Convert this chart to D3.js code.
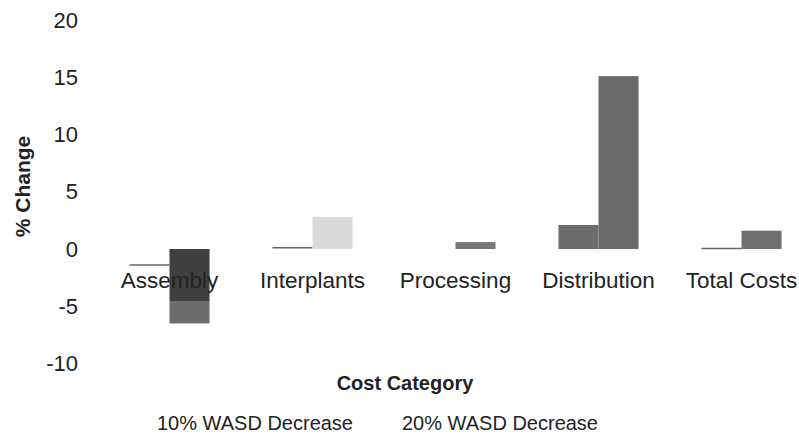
<!DOCTYPE html>
<html>
<head>
<meta charset="utf-8">
<script src="https://cdn.jsdelivr.net/npm/d3@7"></script>
<style>
  body { margin: 0; background: #fff; }
  svg { display: block; font-family: "Liberation Sans", Arial, sans-serif; }
</style>
</head>
<body>
<script>
// Cost category % change under two WASD decrease scenarios

const categories = ["Assembly", "Interplants", "Processing", "Distribution", "Total Costs"];
const seriesNames = ["10% WASD Decrease", "20% WASD Decrease"];
const wasd10 = [-1.4, 0.1, 0, 2.1, 0.05];
const wasd20 = [-6.5, 2.8, 0.6, 15.1, 1.6];
const yTicks = [-10, -5, 0, 5, 10, 15, 20];

// scanned look: each bar has its own grey
const fill10 = { "Assembly": "#fff", "Interplants": "#fff", "Processing": "#fff", "Distribution": "#6c6c6c", "Total Costs": "#fff" };
const fill20 = { "Assembly": "url(#asmGrad)", "Interplants": "#dadada", "Processing": "#777", "Distribution": "#6a6a6a", "Total Costs": "#707070" };

const width = 799, height = 447;

const svg = d3.select("body").append("svg")
  .attr("width", width)
  .attr("height", height);

const defs = svg.append("defs");
const grad = defs.append("linearGradient")
  .attr("id", "asmGrad")
  .attr("x1", 0).attr("y1", 0).attr("x2", 0).attr("y2", 1);
grad.append("stop").attr("offset", "0%").attr("stop-color", "#3f3f3f");
grad.append("stop").attr("offset", "70%").attr("stop-color", "#3f3f3f");
grad.append("stop").attr("offset", "70%").attr("stop-color", "#6c6c6c");
grad.append("stop").attr("offset", "100%").attr("stop-color", "#6c6c6c");

const x = d3.scaleBand()
  .domain(categories)
  .range([98, 813])
  .paddingInner(0.44)
  .paddingOuter(0.22);

const xSub = d3.scaleBand()
  .domain(seriesNames)
  .range([0, x.bandwidth()]);

const y = d3.scaleLinear()
  .domain([-10, 20])
  .range([363.5, 20]);

// y tick labels (no axis line)
svg.append("g")
  .selectAll("text")
  .data(yTicks)
  .join("text")
  .attr("x", 78)
  .attr("y", (d) => y(d))
  .attr("dy", "0.35em")
  .attr("text-anchor", "end")
  .style("font-size", "22px")
  .style("fill", "#222")
  .text((d) => d);

const rows = categories.map((c, i) => ({ cat: c, v10: wasd10[i], v20: wasd20[i] }));

const groups = svg.append("g")
  .selectAll("g")
  .data(rows)
  .join("g")
  .attr("transform", (d) => `translate(${x(d.cat)},0)`);

// 10% series
groups.append("rect")
  .attr("x", xSub(seriesNames[0]))
  .attr("width", xSub.bandwidth())
  .attr("y", (d) => y(Math.max(0, d.v10)))
  .attr("height", (d) => Math.abs(y(d.v10) - y(0)))
  .attr("fill", (d) => fill10[d.cat]);

groups.filter((d) => d.v10 !== 0 && fill10[d.cat] === "#fff")
  .append("line")
  .attr("x1", xSub(seriesNames[0]))
  .attr("x2", xSub(seriesNames[0]) + xSub.bandwidth())
  .attr("y1", (d) => y(d.v10))
  .attr("y2", (d) => y(d.v10))
  .attr("stroke", "#666")
  .attr("stroke-width", 1.5);

// 20% series
groups.append("rect")
  .attr("x", xSub(seriesNames[1]))
  .attr("width", xSub.bandwidth())
  .attr("y", (d) => y(Math.max(0, d.v20)))
  .attr("height", (d) => Math.abs(y(d.v20) - y(0)))
  .attr("fill", (d) => fill20[d.cat]);

// category labels
svg.append("g")
  .selectAll("text")
  .data(categories)
  .join("text")
  .attr("x", (d) => x(d) + x.bandwidth() / 2)
  .attr("y", 288)
  .attr("text-anchor", "middle")
  .style("font-size", "22.5px")
  .style("fill", "#222")
  .text((d) => d);

// axis titles
svg.append("text")
  .attr("transform", "translate(30,186.5) rotate(-90)")
  .attr("text-anchor", "middle")
  .style("font-size", "21px")
  .style("font-weight", "bold")
  .style("fill", "#222")
  .text("% Change");

svg.append("text")
  .attr("x", 405)
  .attr("y", 390)
  .attr("text-anchor", "middle")
  .style("font-size", "20px")
  .style("font-weight", "bold")
  .style("fill", "#222")
  .text("Cost Category");

// legend (markers are not visible in the original)
const legendX = [157, 402];
svg.append("g")
  .selectAll("text")
  .data(seriesNames)
  .join("text")
  .attr("x", (d, i) => legendX[i])
  .attr("y", 430)
  .style("font-size", "20px")
  .style("fill", "#222")
  .text((d) => d);
</script>
</body>
</html>
